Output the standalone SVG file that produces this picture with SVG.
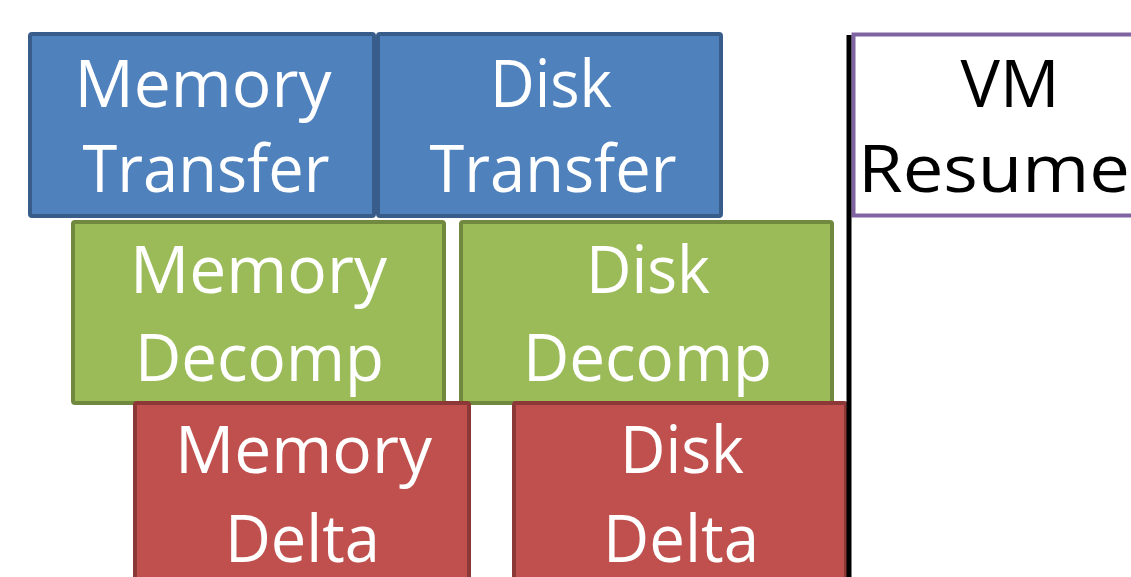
<svg xmlns="http://www.w3.org/2000/svg" width="1131" height="577" viewBox="0 0 1131 577">
<style>
.t{font-family:"Open Sans","Liberation Sans",sans-serif;font-size:66px;text-anchor:middle;fill:#fff}
.k{fill:#000}
.blue{fill:#4F81BD;stroke:#385D8A;stroke-width:4}
.green{fill:#9BBB59;stroke:#71893F;stroke-width:4}
.red{fill:#C0504D;stroke:#8C3836;stroke-width:4}
.vm{fill:#fff;stroke:#8064A2;stroke-width:4}
</style>
<rect width="1131" height="577" fill="#fff"/>
<g id="memory-transfer">
<rect class="blue" x="30" y="34" width="344" height="182" rx="2"/>
<text class="t" x="203" y="107" textLength="257" lengthAdjust="spacingAndGlyphs">Memory</text>
<text class="t" x="206" y="192" textLength="247" lengthAdjust="spacingAndGlyphs">Transfer</text>
</g>
<g id="disk-transfer">
<rect class="blue" x="378" y="34" width="343" height="182" rx="2"/>
<text class="t" x="551" y="107" textLength="122" lengthAdjust="spacingAndGlyphs">Disk</text>
<text class="t" x="553" y="192" textLength="247" lengthAdjust="spacingAndGlyphs">Transfer</text>
</g>
<g id="vm-resume">
<rect class="vm" x="853.5" y="34.5" width="300" height="181"/>
<text class="t k" x="1010" y="107" textLength="99" lengthAdjust="spacingAndGlyphs">VM</text>
<text class="t k" x="994" y="192" textLength="272" lengthAdjust="spacingAndGlyphs">Resume</text>
</g>
<g id="memory-decomp">
<rect class="green" x="73" y="222" width="371" height="181" rx="2"/>
<text class="t" x="258.5" y="293" textLength="257" lengthAdjust="spacingAndGlyphs">Memory</text>
<text class="t" x="259.5" y="381" textLength="249" lengthAdjust="spacingAndGlyphs">Decomp</text>
</g>
<g id="disk-decomp">
<rect class="green" x="461" y="222" width="371" height="181" rx="2"/>
<text class="t" x="648" y="293" textLength="124" lengthAdjust="spacingAndGlyphs">Disk</text>
<text class="t" x="647.5" y="381" textLength="249" lengthAdjust="spacingAndGlyphs">Decomp</text>
</g>
<g id="memory-delta">
<rect class="red" x="135" y="403" width="334" height="200" rx="2"/>
<text class="t" x="303.5" y="473" textLength="257" lengthAdjust="spacingAndGlyphs">Memory</text>
<text class="t" x="302.5" y="562" textLength="155" lengthAdjust="spacingAndGlyphs">Delta</text>
</g>
<g id="disk-delta">
<rect class="red" x="514" y="403" width="332" height="200" rx="2"/>
<text class="t" x="682" y="473" textLength="124" lengthAdjust="spacingAndGlyphs">Disk</text>
<text class="t" x="681" y="562" textLength="156" lengthAdjust="spacingAndGlyphs">Delta</text>
</g>
<g id="connectors">
<line x1="849" y1="35" x2="849" y2="577" stroke="#000" stroke-width="5"/>
</g>
</svg>
